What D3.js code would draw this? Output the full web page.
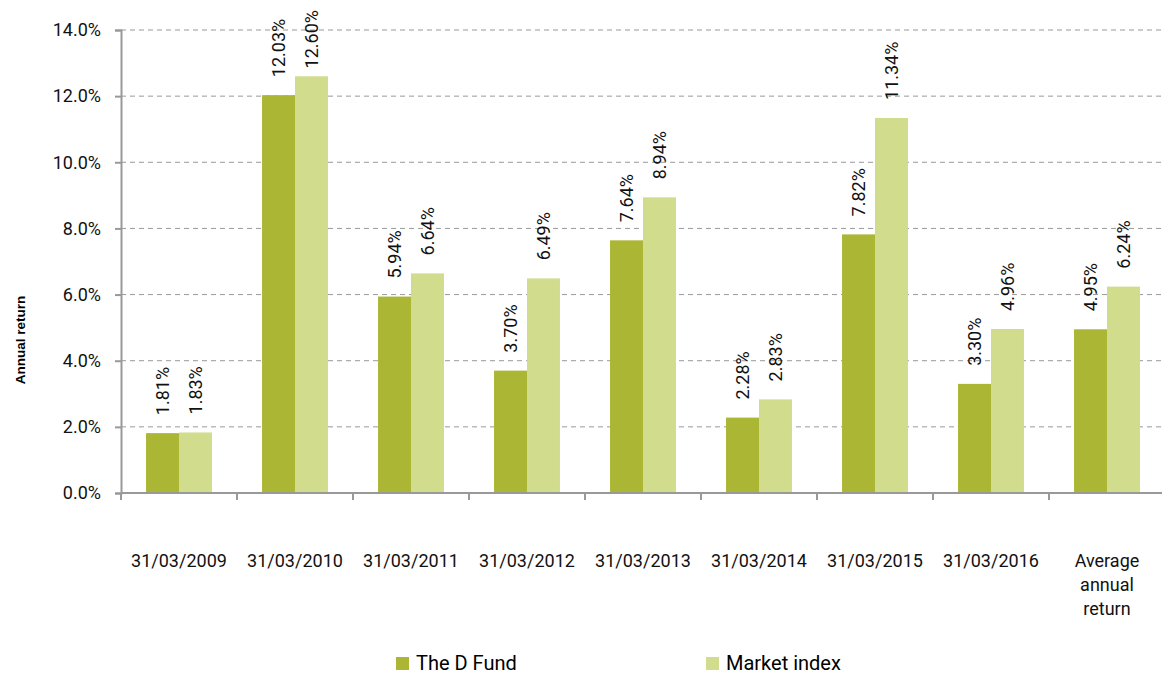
<!DOCTYPE html>
<html lang="en">
<head>
    <meta charset="UTF-8">
    <title>Annual return - The D Fund vs Market index</title>
    <script src="https://d3js.org/d3.v7.min.js"></script>
    <style>
        body {
            margin: 0;
            padding: 0;
            background: #fff;
        }
        svg text {
            font-family: Roboto, "Noto Sans", sans-serif;
        }
        .grid line {
            stroke: #999;
            stroke-dasharray: 5 4;
        }
        .axis path, .axis line {
            stroke: #999;
            stroke-width: 2;
        }
        .axis text {
            font-size: 18px;
            fill: #111;
        }
        .value-label {
            font-size: 18px;
            fill: #111;
        }
    </style>
</head>
<body>
    <svg id="chart"></svg>

    <script>
        // categories and series values (percent)
        const categories = ["31/03/2009", "31/03/2010", "31/03/2011", "31/03/2012", "31/03/2013",
            "31/03/2014", "31/03/2015", "31/03/2016", "Average annual return"];
        const fundValues = [1.81, 12.03, 5.94, 3.70, 7.64, 2.28, 7.82, 3.30, 4.95];
        const marketValues = [1.83, 12.60, 6.64, 6.49, 8.94, 2.83, 11.34, 4.96, 6.24];
        const seriesNames = ["The D Fund", "Market index"];
        const seriesColors = ["#abb634", "#d1dc8c"];
        const yTicks = [0, 2, 4, 6, 8, 10, 12, 14];

        const width = 1162, height = 675;
        const margin = { top: 30, right: -3, bottom: 182, left: 121 };
        const plotW = width - margin.left - margin.right;
        const plotH = height - margin.top - margin.bottom;

        const svg = d3.select("#chart")
            .attr("width", width)
            .attr("height", height);

        const g = svg.append("g")
            .attr("transform", `translate(${margin.left},${margin.top})`);

        const x = d3.scaleBand()
            .domain(categories)
            .range([0, plotW]);

        // two bars per category, 25px gap each side
        const x1 = d3.scaleBand()
            .domain(seriesNames)
            .range([0, x.bandwidth()])
            .paddingOuter(0.76);

        const y = d3.scaleLinear()
            .domain([0, 14])
            .range([plotH, 0]);

        // dashed gridlines
        g.append("g")
            .attr("class", "grid")
            .selectAll("line")
            .data(yTicks.filter(d => d > 0))
            .enter().append("line")
            .attr("x1", 0)
            .attr("x2", plotW)
            .attr("y1", d => y(d))
            .attr("y2", d => y(d));

        // bars
        const rows = categories.map((c, i) => ({ cat: c, vals: [fundValues[i], marketValues[i]] }));

        const groups = g.selectAll(".cat")
            .data(rows)
            .enter().append("g")
            .attr("transform", d => `translate(${x(d.cat)},0)`);

        groups.selectAll("rect")
            .data(d => d.vals.map((v, j) => ({ name: seriesNames[j], v: v, j: j })))
            .enter().append("rect")
            .attr("x", d => x1(d.name))
            .attr("width", x1.bandwidth())
            .attr("y", d => y(d.v))
            .attr("height", d => plotH - y(d.v))
            .attr("fill", d => seriesColors[d.j]);

        // rotated value labels, kept inside the top of the chart
        const topLimit = 10 - margin.top;
        groups.selectAll(".value-label")
            .data(d => d.vals.map((v, j) => ({ name: seriesNames[j], v: v })))
            .enter().append("text")
            .attr("class", "value-label")
            .attr("text-anchor", "start")
            .text(d => d.v.toFixed(2) + "%")
            .attr("transform", function (d) {
                const len = this.getComputedTextLength();
                const ly = Math.max(y(d.v) - 18, topLimit + len);
                return `translate(${x1(d.name) + x1.bandwidth() / 2 + 6.5},${ly}) rotate(-90)`;
            });

        // y axis
        g.append("g")
            .attr("class", "axis")
            .call(d3.axisLeft(y).tickValues(yTicks).tickSize(6).tickPadding(14)
                .tickFormat(d => d.toFixed(1) + "%"));

        // x axis (ticks at band boundaries)
        const xAxis = g.append("g")
            .attr("class", "axis")
            .attr("transform", `translate(0,${plotH})`);
        xAxis.append("line")
            .attr("x1", 0).attr("x2", plotW);
        xAxis.selectAll(".tick-mark")
            .data(categories)
            .enter().append("line")
            .attr("x1", d => x(d)).attr("x2", d => x(d))
            .attr("y1", 0).attr("y2", 7);

        // category labels, wrapped for the last one
        const catLines = { "Average annual return": ["Average", "annual", "return"] };
        xAxis.selectAll(".cat-label")
            .data(categories)
            .enter().append("text")
            .attr("text-anchor", "middle")
            .attr("x", d => x(d) + x.bandwidth() / 2)
            .attr("y", 74)
            .each(function (d) {
                const lines = catLines[d] || [d];
                d3.select(this).selectAll("tspan")
                    .data(lines)
                    .enter().append("tspan")
                    .attr("x", x(d) + x.bandwidth() / 2)
                    .attr("dy", (l, k) => k === 0 ? 0 : 24)
                    .text(l => l);
            });

        // y axis title
        svg.append("text")
            .attr("transform", `translate(25,340) rotate(-90)`)
            .attr("text-anchor", "middle")
            .style("font-family", "'Liberation Sans', Arial, sans-serif")
            .style("font-size", "13.5px")
            .style("font-weight", "bold")
            .text("Annual return");

        // legend
        const legendX = [396, 706];
        const legend = svg.selectAll(".legend")
            .data(seriesNames)
            .enter().append("g")
            .attr("transform", (d, i) => `translate(${legendX[i]},657)`);
        legend.append("rect")
            .attr("width", 13).attr("height", 13)
            .attr("fill", (d, i) => seriesColors[i]);
        legend.append("text")
            .attr("x", 20).attr("y", 13)
            .style("font-size", "20px")
            .text(d => d);
    </script>
</body>
</html>
